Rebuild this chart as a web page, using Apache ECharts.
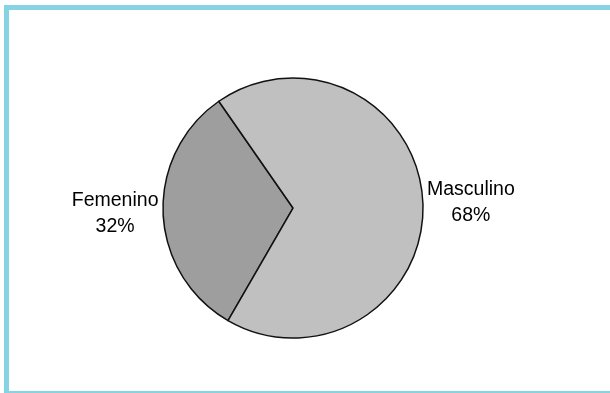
<!DOCTYPE html>
<html>
<head>
<meta charset="utf-8">
<script src="https://cdn.jsdelivr.net/npm/echarts@6/dist/echarts.min.js"></script>
<style>
html,body{margin:0;padding:0;background:#fff;}
#chart{width:610px;height:393px;}
</style>
</head>
<body>
<div id="chart"></div>
<script>
const categories = ['Femenino', 'Masculino'];
const values = [32, 68];
const colors = ['#9e9e9e', '#c0c0c0'];

const chart = echarts.init(document.getElementById('chart'), null, {renderer: 'canvas'});
chart.setOption({
  backgroundColor: '#ffffff',
  animation: false,
  graphic: [
    {type: 'rect', shape: {x: 4, y: 5, width: 5, height: 388}, style: {fill: '#85d3e3'}},
    {type: 'rect', shape: {x: 4, y: 5, width: 606, height: 5}, style: {fill: '#85d3e3'}},
    {type: 'rect', shape: {x: 4, y: 391, width: 606, height: 2}, style: {fill: '#85d3e3'}}
  ],
  series: [{
    type: 'pie',
    center: [293, 208],
    radius: [0, 130],
    startAngle: 240,
    clockwise: true,
    avoidLabelOverlap: false,
    itemStyle: {borderColor: '#111', borderWidth: 1.5},
    label: {
      show: true,
      position: 'outside',
      formatter: function (p) { return '{a|' + p.name + '}\n{a|' + p.value + '%}'; },
      rich: {
        a: {fontFamily: 'Liberation Sans, Arial, sans-serif', fontSize: 19.5, color: '#000', lineHeight: 26, width: 86, align: 'center'}
      }
    },
    labelLine: {show: false, length: 0, length2: 0},
    emphasis: {disabled: true},
    data: categories.map((c, i) => ({name: c, value: values[i], itemStyle: {color: colors[i]}}))
  }]
});
</script>
</body>
</html>
